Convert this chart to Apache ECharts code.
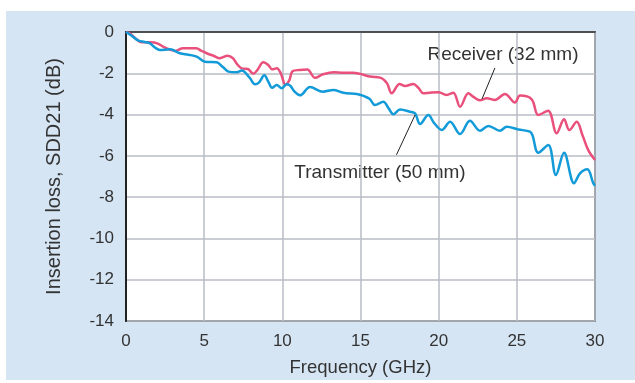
<!DOCTYPE html>
<html>
<head>
<meta charset="utf-8">
<script src="https://cdn.jsdelivr.net/npm/echarts@6/dist/echarts.min.js"></script>
<style>
html,body{margin:0;padding:0;background:#fff;}
#wrap{position:relative;width:635px;height:383px;background:#fff;overflow:hidden;}
#panel{position:absolute;left:6px;top:11px;width:629px;height:369px;background:#d5e5f4;}
#chart{position:absolute;left:0;top:0;width:635px;height:383px;}
</style>
</head>
<body>
<div id="wrap"><div id="panel"></div><div id="chart"></div></div>
<script>
// Receiver (32 mm) : [frequency GHz, SDD21 dB]
const receiverFreq = [0,0.3,0.6,1.0,1.6,2.0,2.4,2.8,3.13,3.65,4.5,4.8,5.16,5.6,6.0,6.5,6.84,7.1,7.4,7.8,8.14,8.4,8.78,9.1,9.35,9.64,9.9,10.2,10.45,10.65,11.1,11.6,12.09,12.6,13.3,13.9,14.5,15.0,15.5,16.0,16.36,16.7,17.0,17.5,17.85,18.38,18.7,19.02,19.45,20.0,20.5,20.94,21.37,21.9,22.2,22.64,23.07,23.6,24.24,24.88,25.2,25.95,26.37,27.0,27.55,28.02,28.36,28.83,29.2,29.57,30.0];
const receiverLoss = [0,-0.1,-0.3,-0.5,-0.5,-0.55,-0.72,-0.85,-0.92,-0.79,-0.79,-0.9,-1.03,-1.15,-1.27,-1.15,-1.27,-1.55,-1.76,-1.79,-2.02,-1.85,-1.47,-1.6,-1.81,-1.76,-2.0,-2.55,-2.33,-1.9,-1.84,-1.82,-2.22,-2.05,-1.95,-1.98,-1.97,-2.03,-2.14,-2.18,-2.24,-2.49,-2.97,-2.52,-2.62,-2.52,-2.7,-2.97,-2.94,-2.92,-3.05,-2.94,-3.62,-2.97,-3.13,-3.31,-3.21,-3.29,-3.0,-3.42,-3.08,-3.26,-4.02,-3.81,-4.91,-4.23,-4.75,-4.35,-5.0,-5.72,-6.2];
// Transmitter (50 mm)
const transmitterFreq = [0,0.4,0.79,1.2,1.54,1.85,2.17,2.81,3.45,4.0,4.52,5.05,5.8,6.2,6.55,7.08,7.4,7.93,8.25,8.5,8.85,9.1,9.35,9.64,9.96,10.28,10.5,10.8,11.13,11.77,12.6,13.26,13.9,14.76,15.0,15.3,15.6,15.93,16.46,16.8,17.1,17.53,18.17,18.5,18.81,19.34,19.7,20.2,20.73,21.37,22.0,22.64,23.18,23.92,24.35,25.1,25.84,26.0,26.37,27.01,27.5,28.02,28.66,29.04,29.51,29.89,30.0];
const transmitterLoss = [0,-0.2,-0.42,-0.48,-0.55,-0.75,-0.87,-0.84,-1.03,-1.1,-1.19,-1.44,-1.47,-1.7,-1.92,-1.95,-1.87,-2.24,-2.53,-2.45,-2.1,-2.4,-2.7,-2.57,-2.73,-2.53,-2.6,-2.9,-3.07,-2.67,-2.89,-2.81,-2.94,-3.0,-3.05,-3.13,-3.25,-3.54,-3.38,-3.7,-3.99,-3.75,-3.86,-3.95,-4.46,-4.02,-4.4,-4.75,-4.35,-4.94,-4.3,-4.78,-4.55,-4.78,-4.59,-4.72,-4.83,-5.0,-5.85,-5.47,-6.93,-5.85,-7.33,-6.85,-6.65,-7.33,-7.45];

const seriesNames = ['Receiver (32 mm)', 'Transmitter (50 mm)'];
// annotation leader lines in data units [freq, dB]
const receiverLeader = [[23.6,-1.74],[22.77,-3.25]];
const transmitterLeader = [[17.3,-5.95],[18.49,-4.02]];

const FONT = 'Liberation Sans, Arial, sans-serif';
const zip = (a,b)=>a.map((v,i)=>[v,b[i]]);

const chart = echarts.init(document.getElementById('chart'), null, {renderer:'canvas'});
chart.setOption({
  backgroundColor: 'transparent',
  animation: false,
  textStyle: {fontFamily: FONT},
  grid: {left:126, right:40, top:32, bottom:62, show:true, backgroundColor:'#fff', borderColor:'#333', borderWidth:1.5},
  xAxis: {
    type:'value', min:0, max:30, interval:5,
    name:'Frequency (GHz)', nameLocation:'middle', nameGap:37,
    nameTextStyle:{fontSize:18.5, color:'#333', fontFamily:FONT},
    axisLine:{show:true, lineStyle:{color:'#333', width:1.5}},
    axisTick:{show:false},
    axisLabel:{fontSize:17, color:'#333', margin:12, fontFamily:FONT},
    splitLine:{show:true, lineStyle:{color:'#b9bec6', width:1.5}}
  },
  yAxis: {
    type:'value', min:-14, max:0, interval:2,
    name:'Insertion loss, SDD21 (dB)', nameLocation:'middle', nameGap:62,
    nameTextStyle:{fontSize:20, color:'#333', fontFamily:FONT},
    axisLine:{show:true, lineStyle:{color:'#222', width:2}},
    axisTick:{show:false},
    axisLabel:{fontSize:17, color:'#333', margin:12, fontFamily:FONT},
    splitLine:{show:true, lineStyle:{color:'#b9bec6', width:1.5}}
  },
  series: [
    {
      name: seriesNames[0], type:'line', data: zip(receiverFreq, receiverLoss),
      showSymbol:false, smooth:0.35, lineStyle:{color:'#e9507c', width:2.5}, z:3,
      markLine:{silent:true, symbol:'none', label:{show:false},
        lineStyle:{color:'#222', width:1, type:'solid'},
        data:[[{coord:receiverLeader[0]},{coord:receiverLeader[1]}]]}
    },
    {
      name: seriesNames[1], type:'line', data: zip(transmitterFreq, transmitterLoss),
      showSymbol:false, smooth:0.35, lineStyle:{color:'#129bd8', width:2.5}, z:4,
      markLine:{silent:true, symbol:'none', label:{show:false},
        lineStyle:{color:'#222', width:1, type:'solid'},
        data:[[{coord:transmitterLeader[0]},{coord:transmitterLeader[1]}]]}
    }
  ],
  graphic: [
    {type:'text', x:503, y:55, style:{text:seriesNames[0], fill:'#333', font:'19px '+FONT, textAlign:'center', textVerticalAlign:'middle'}},
    {type:'text', x:380, y:173, style:{text:seriesNames[1], fill:'#333', font:'19px '+FONT, textAlign:'center', textVerticalAlign:'middle'}}
  ]
});
</script>
</body>
</html>
